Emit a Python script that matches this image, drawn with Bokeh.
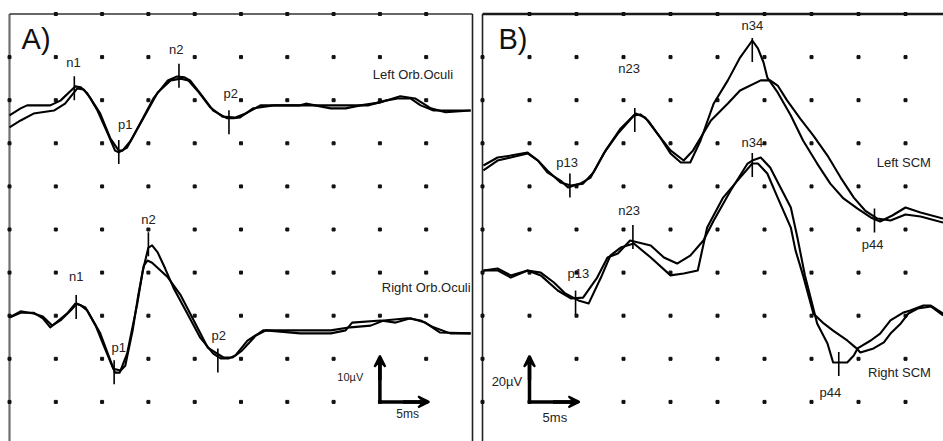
from bokeh.plotting import figure
from bokeh.layouts import row
from bokeh.models import Range1d, Arrow, VeeHead
from bokeh.core.properties import value
from bokeh.embed import file_html
from bokeh.resources import INLINE

FONT = value("Liberation Sans")

# ---------------- Panel A: orbicularis oculi (5 ms/div, 10 uV/div) ----------------
a_left_1_ms = [0, 1.2, 1.9, 4.4, 5.5, 7.1, 7.7, 8.4, 9.5, 10.6, 11.4, 11.8, 12.7, 14.1, 15.6, 17.1, 18.1, 18.9,
               19.5, 20.6, 22.0, 23.5, 24.2, 24.9, 26.3, 28.5, 31.4, 35.7, 38.7, 40.6, 41.9, 43.3, 44.4, 45.8, 47.6, 49.8]
a_left_1_uv = [76.5, 78.1, 78.8, 78.8, 79.9, 83.2, 83.0, 81.6, 77.6, 72.3, 68.3, 67.9, 69.0, 74.6, 80.6, 84.6, 85.5,
               85.3, 84.6, 81.6, 77.6, 75.8, 75.8, 76.0, 78.1, 78.8, 78.8, 78.8, 78.8, 79.9, 80.4, 80.4, 78.8, 77.6,
               77.6, 77.6]
a_left_2_ms = [0, 1.2, 2.6, 4.8, 6.0, 7.3, 8.0, 8.7, 9.8, 10.9, 11.8, 12.2, 13.1, 14.5, 16.0, 17.4, 18.5, 19.3,
               20.3, 21.7, 23.0, 24.4, 25.5, 27.1, 31.4, 32.0, 33.0, 34.7, 36.3, 37.9, 40.1, 42.2, 43.8, 45.5, 47.1, 49.8]
a_left_2_uv = [73.7, 75.3, 76.9, 77.6, 79.2, 82.7, 82.5, 80.6, 76.9, 71.1, 68.3, 68.3, 70.6, 76.0, 81.8, 84.6, 85.0,
               84.6, 82.2, 78.3, 76.2, 76.0, 76.9, 78.8, 78.8, 79.2, 78.8, 78.1, 78.1, 78.8, 79.5, 80.9, 80.4, 78.1,
               77.2, 77.6]
a_right_1_ms = [0, 1.2, 2.6, 3.6, 4.4, 5.3, 6.3, 7.1, 7.7, 8.4, 9.8, 10.9, 11.4, 11.9, 12.7, 13.8, 14.4, 15.0, 15.4,
                16.0, 16.8, 17.7, 19.2, 20.6, 22.0, 22.8, 23.7, 24.4, 25.7, 27.4, 31.4, 34.7, 36.8, 39.0, 40.4, 43.0,
                44.4, 45.8, 47.6, 49.8]
a_right_1_uv = [29.6, 30.7, 30.7, 29.4, 27.3, 28.9, 30.7, 32.8, 32.4, 31.2, 25.9, 19.6, 16.8, 16.8, 21.2, 32.8, 40.5,
                45.8, 46.3, 44.7, 41.0, 36.5, 30.5, 24.9, 21.2, 20.1, 20.1, 20.8, 24.2, 26.6, 26.6, 26.6, 27.3, 27.7,
                28.9, 29.4, 28.9, 27.3, 25.9, 25.9]
a_right_2_ms = [0, 1.2, 2.6, 3.6, 4.6, 5.5, 6.6, 7.3, 8.2, 9.3, 10.4, 11.2, 12.0, 12.5, 13.3, 13.9, 14.5, 14.9, 15.4,
                17.1, 18.5, 19.9, 21.4, 23.1, 24.1, 25.1, 26.6, 27.7, 31.4, 34.7, 36.3, 37.0, 40.1, 41.7, 43.3, 44.9,
                46.5, 49.8]
a_right_2_uv = [29.6, 31.0, 30.5, 29.8, 27.7, 28.9, 31.2, 32.8, 31.9, 27.7, 21.9, 17.7, 17.3, 18.4, 26.6, 34.7, 41.6,
                42.8, 42.3, 38.9, 34.7, 28.9, 22.6, 20.3, 20.3, 21.9, 25.4, 26.6, 25.9, 25.9, 26.6, 28.4, 28.9, 28.4,
                29.4, 28.4, 26.1, 25.9]

a_peak_names = ["n1", "p1", "n2", "p2"]
a_left_peak_ms = [7.0, 11.8, 18.3, 23.7]
a_left_peak_uv = [82.8, 68.0, 85.7, 74.9]
a_left_label_ms = [6.9, 12.5, 18.0, 23.9]
a_left_label_uv = [88.7, 74.4, 91.8, 81.6]
a_right_peak_ms = [7.2, 11.3, 15.0, 22.5]
a_right_peak_uv = [32.0, 16.9, 46.6, 19.6]
a_right_label_ms = [7.2, 11.8, 15.0, 22.6]
a_right_label_uv = [39.1, 22.6, 52.3, 25.4]
a_trace_names = ["Left Orb.Oculi", "Right Orb.Oculi"]
a_trace_name_ms = [47.9, 49.8]
a_trace_name_uv = [85.9, 36.5]

# ---------------- Panel B: sternocleidomastoid (5 ms/div, 20 uV/div) ----------------
b_left_1_ms = [0.1, 1.6, 3.0, 4.8, 5.9, 6.9, 8.3, 9.1, 10.4, 11.5, 12.9, 14.4, 16.1, 16.8, 17.6, 18.9, 20.0, 21.1,
               22.1, 23.2, 24.6, 26.1, 27.4, 28.7, 29.3, 29.9, 30.3, 31.4, 32.8, 34.1, 35.6, 37.0, 38.4, 39.9, 41.3,
               42.3, 43.6, 45.0, 46.6, 49.0]
b_left_1_uv = [129.7, 133.4, 134.3, 135.7, 132.0, 126.5, 122.7, 119.5, 121.3, 124.1, 135.3, 144.5, 152.9, 153.4,
               150.6, 142.7, 135.3, 131.1, 131.1, 141.3, 158.5, 169.2, 179.8, 187.7, 184.0, 177.5, 170.5, 163.6,
               152.9, 141.3, 130.6, 121.3, 114.4, 109.7, 105.6, 103.7, 106.5, 110.2, 107.9, 105.1]
b_left_2_ms = [0.1, 1.6, 3.0, 4.8, 5.9, 6.9, 8.3, 9.4, 10.7, 11.8, 13.1, 14.7, 16.3, 17.3, 18.6, 20.0, 21.4, 22.4,
               24.3, 26.1, 27.4, 29.6, 30.6, 31.4, 32.4, 33.8, 35.2, 36.7, 38.1, 39.5, 40.7, 42.0, 43.4, 45.0, 46.6, 49.0]
b_left_2_uv = [127.4, 132.0, 133.4, 135.3, 132.0, 127.4, 121.8, 120.4, 121.3, 126.5, 136.7, 146.9, 153.8, 152.0,
               144.5, 136.7, 132.0, 136.7, 150.6, 158.5, 164.5, 169.2, 169.2, 166.8, 159.9, 151.5, 143.6, 134.3,
               124.1, 114.8, 108.8, 105.1, 104.2, 107.0, 106.0, 103.2]
b_right_1_ms = [0.1, 1.6, 3.0, 4.8, 6.2, 8.0, 9.4, 10.7, 12.2, 13.3, 14.4, 15.7, 17.9, 19.3, 20.7, 22.1, 23.5, 24.6,
                26.4, 28.2, 28.7, 29.6, 30.6, 31.7, 32.8, 33.5, 34.3, 34.9, 35.6, 36.7, 37.3, 38.8, 39.5, 39.9, 41.3,
                42.3, 43.4, 44.8, 45.5, 46.9, 47.7, 49.0]
b_right_1_uv = [81.0, 81.0, 77.7, 81.0, 78.7, 71.7, 68.0, 68.4, 77.7, 87.0, 88.9, 94.9, 92.6, 87.0, 84.2, 87.9, 94.9,
                104.2, 118.1, 130.6, 132.0, 133.4, 128.8, 119.5, 110.2, 96.3, 78.7, 68.4, 56.4, 47.1, 38.3, 38.3,
                41.5, 44.8, 48.5, 51.7, 57.8, 61.5, 62.4, 64.7, 64.7, 61.0]
b_right_2_ms = [0.1, 1.6, 3.0, 4.8, 6.2, 7.6, 8.8, 10.2, 11.3, 12.6, 13.6, 14.7, 16.1, 17.9, 20.0, 21.4, 22.9, 23.9,
                25.6, 27.4, 28.7, 29.3, 30.3, 31.4, 32.8, 33.3, 34.1, 35.2, 36.3, 37.3, 38.8, 39.7, 40.2, 41.6, 42.7,
                43.4, 44.5, 45.3, 46.3, 47.7, 49.0]
b_right_2_uv = [81.0, 81.9, 78.7, 81.0, 80.0, 75.4, 70.3, 67.1, 65.7, 77.7, 87.9, 91.6, 93.5, 87.0, 78.7, 79.6, 81.0,
                100.9, 114.8, 124.1, 130.6, 130.6, 126.0, 114.8, 100.9, 90.3, 78.7, 61.0, 56.4, 53.1, 48.5, 45.2,
                42.9, 44.8, 47.6, 51.7, 56.4, 61.0, 63.3, 64.3, 60.1]

b_peak_names = ["p13", "n23", "n34", "p44"]
b_left_peak_ms = [9.3, 16.2, 28.7, 41.7]
b_left_peak_uv = [120.4, 150.8, 183.3, 104.2]
b_left_label_ms = [9.0, 15.6, 28.7, 41.5]
b_left_label_uv = [131.1, 174.7, 194.7, 93.0]
b_right_peak_ms = [9.9, 16.0, 28.7, 37.9]
b_right_peak_uv = [66.1, 96.5, 129.9, 37.6]
b_right_label_ms = [10.2, 15.6, 28.7, 37.0]
b_right_label_uv = [79.6, 108.8, 140.4, 24.4]
b_trace_names = ["Left SCM", "Right SCM"]
b_trace_name_ms = [47.7, 47.7]
b_trace_name_uv = [131.1, 33.6]

MS_PER_DIV = 5
N_DIV = 10
FIG_HEIGHT = 441


def make_panel(width, px_per_ms, px_per_uv, uv_per_div, left_px, top_px, traces, peaks, trace_names,
               letter, letter_pos, scale_corner, scale_label_pos, scale_text, frame_style):
    height = FIG_HEIGHT
    x0 = -left_px / px_per_ms
    y1 = uv_per_div * N_DIV + top_px / px_per_uv
    p = figure(width=width, height=height,
               x_range=Range1d(x0, x0 + width / px_per_ms),
               y_range=Range1d(y1 - height / px_per_uv, y1),
               output_backend="svg", toolbar_location=None,
               x_axis_location=None, y_axis_location=None,
               min_border=0, outline_line_color=None, background_fill_color="white",
               border_fill_color="white")
    p.xgrid.grid_line_color = None
    p.ygrid.grid_line_color = None
    ymax = uv_per_div * N_DIV
    xmax = MS_PER_DIV * N_DIV
    # frame
    for xs, ys, col, lw in frame_style(xmax, ymax):
        p.line(xs, ys, line_color=col, line_width=lw)
    # grid dots
    gx, gy = [], []
    for i in range(1, N_DIV):
        for j in range(1, N_DIV):
            gx.append(i * MS_PER_DIV)
            gy.append(j * uv_per_div)
    p.scatter(gx, gy, marker="square", size=3, color="#111111")
    # edge ticks
    ex = [0] * (N_DIV - 1) + [i * MS_PER_DIV for i in range(1, N_DIV)]
    ey = [j * uv_per_div for j in range(1, N_DIV)] + [ymax] * (N_DIV - 1)
    p.scatter(ex, ey, marker="square", size=3, color="#111111")
    # traces
    for ms, uv in traces:
        p.line(ms, uv, line_color="black", line_width=2.1, line_join="round")
    # peak markers and labels
    h = 12 / px_per_uv
    for names, pk_ms, pk_uv, lb_ms, lb_uv in peaks:
        p.segment(x0=pk_ms, y0=[v - h for v in pk_uv], x1=pk_ms, y1=[v + h for v in pk_uv],
                  line_color="black", line_width=1.6)
        p.text(x=lb_ms, y=lb_uv, text=names, text_font=FONT, text_font_size="13px",
               text_align="center", text_baseline="middle", text_color="#222222")
    # trace names
    p.text(x=trace_names[1], y=trace_names[2], text=trace_names[0], text_font=FONT,
           text_font_size="13px", text_align="right", text_baseline="middle", text_color="#222222")
    # panel letter
    p.text(x=[letter_pos[0]], y=[letter_pos[1]], text=[letter], text_font=FONT, text_font_size="29px",
           text_align="left", text_baseline="middle", text_color="#111111")
    # scale bar
    cx, cy = scale_corner
    p.line([cx, cx, cx + MS_PER_DIV], [cy + uv_per_div, cy, cy], line_color="black",
           line_width=3.5, line_join="miter")
    p.add_layout(Arrow(x_start=cx, y_start=cy + 0.5 * uv_per_div, x_end=cx, y_end=cy + uv_per_div + 3 / px_per_uv,
                       line_width=3.5, end=VeeHead(size=11, line_width=2, line_color="black", fill_color="black")))
    p.add_layout(Arrow(x_start=cx + 0.5 * MS_PER_DIV, y_start=cy, x_end=cx + MS_PER_DIV + 3 / px_per_ms, y_end=cy,
                       line_width=3.5, end=VeeHead(size=11, line_width=2, line_color="black", fill_color="black")))
    (vx, vy, vsize), (hx, hy, hsize) = scale_label_pos
    p.text(x=[vx], y=[vy], text=[scale_text[0]], text_font=FONT, text_font_size=vsize,
           text_align="center", text_baseline="middle", text_color="#222222")
    p.text(x=[hx], y=[hy], text=[scale_text[1]], text_font=FONT, text_font_size=hsize,
           text_align="center", text_baseline="middle", text_color="#222222")
    return p


def frame_a(xmax, ymax):
    return [([0, 0], [0, ymax], "#6e6e6e", 2.2),
            ([0, xmax], [ymax, ymax], "#333333", 1.6),
            ([xmax, xmax], [0, ymax], "#222222", 1.6)]


def frame_b(xmax, ymax):
    return [([0, 0], [0, ymax], "#222222", 1.6),
            ([0, xmax + 10], [ymax, ymax], "#1a1a1a", 2.6)]


pa = make_panel(476, 46.3 / 5, 43.1 / 10, 10, 9, 13.5,
                [(a_left_1_ms, a_left_1_uv), (a_left_2_ms, a_left_2_uv),
                 (a_right_1_ms, a_right_1_uv), (a_right_2_ms, a_right_2_uv)],
                [(a_peak_names, a_left_peak_ms, a_left_peak_uv, a_left_label_ms, a_left_label_uv),
                 (a_peak_names, a_right_peak_ms, a_right_peak_uv, a_right_label_ms, a_right_label_uv)],
                (a_trace_names, a_trace_name_ms, a_trace_name_uv),
                "A)", (1.3, 94.3), (40, 10),
                ((36.8, 15.7, "11px"), (43.0, 7.1, "12px")), ("10µV", "5ms"), frame_a)

pb = make_panel(467, 47.0 / 5, 43.1 / 20, 20, 6, 13.5,
                [(b_left_1_ms, b_left_1_uv), (b_left_2_ms, b_left_2_uv),
                 (b_right_1_ms, b_right_1_uv), (b_right_2_ms, b_right_2_uv)],
                [(b_peak_names, b_left_peak_ms, b_left_peak_uv, b_left_label_ms, b_left_label_uv),
                 (b_peak_names, b_right_peak_ms, b_right_peak_uv, b_right_label_ms, b_right_label_uv)],
                (b_trace_names, b_trace_name_ms, b_trace_name_uv),
                "B)", (1.7, 188.6), (5, 20),
                ((2.6, 29.5, "13px"), (7.7, 12.8, "13px")), ("20µV", "5ms"), frame_b)

layout = row(pa, pb)
open("out.html", "w").write(file_html(layout, INLINE))
